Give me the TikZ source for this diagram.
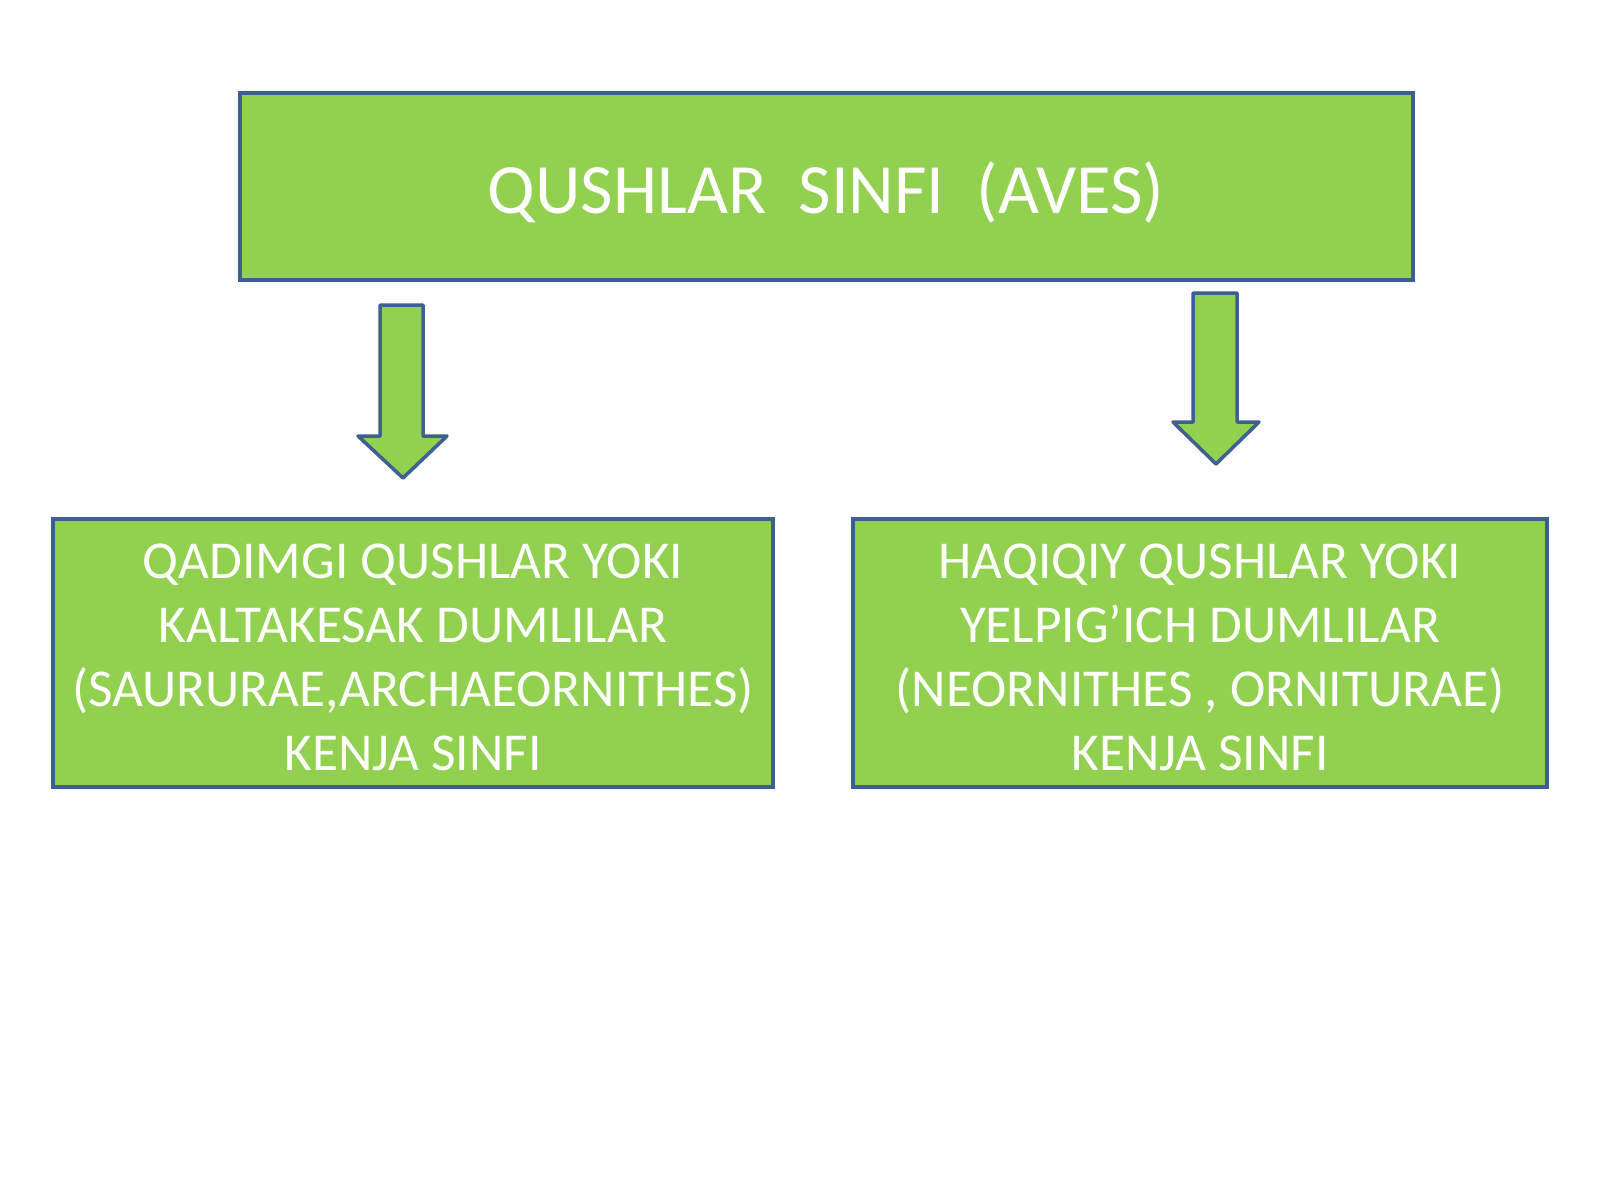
\documentclass[tikz,border=0pt]{standalone}
\usepackage{fontspec}
\setmainfont{Carlito}
\definecolor{boxgreen}{RGB}{146,208,80}
\definecolor{boxblue}{RGB}{62,95,145}
\begin{document}
\begin{tikzpicture}[x=1bp,y=-1bp,
  greenbox/.style={draw=boxblue,fill=boxgreen,line width=3.5bp,line join=miter},
  titletext/.style={text=white,font=\fontsize{71}{76}\selectfont,inner sep=0pt},
  subtext/.style={text=white,font=\fontsize{53.5}{64.3}\selectfont,align=center,inner sep=0pt}]
\useasboundingbox[fill=white] (0,0) rectangle (1600,1200);
% top box
\draw[greenbox] (240,93) rectangle (1413,280);
\node[titletext] (top) at (826,193) {QUSHLAR\ \ SINFI\ \ (AVES)};
% arrows
\draw[greenbox,line join=round] (380,305) -- (423,305) -- (423,436) -- (447,436) -- (403,478) -- (358,436) -- (380,436) -- cycle;
\draw[greenbox,line join=round] (1193,293) -- (1237,293) -- (1237,422) -- (1259,422) -- (1216,464) -- (1173,422) -- (1193,422) -- cycle;
% bottom boxes
\draw[greenbox] (53,519) rectangle (773,787);
\node[subtext] (left) at (413,657) {QADIMGI QUSHLAR YOKI\\KALTAKESAK DUMLILAR\\(SAURURAE,ARCHAEORNITHES)\\KENJA SINFI};
\draw[greenbox] (853,519) rectangle (1547,787);
\node[subtext] (right) at (1200,657) {HAQIQIY QUSHLAR YOKI\\YELPIG’ICH DUMLILAR\\(NEORNITHES , ORNITURAE)\\KENJA SINFI};
\end{tikzpicture}
\end{document}
